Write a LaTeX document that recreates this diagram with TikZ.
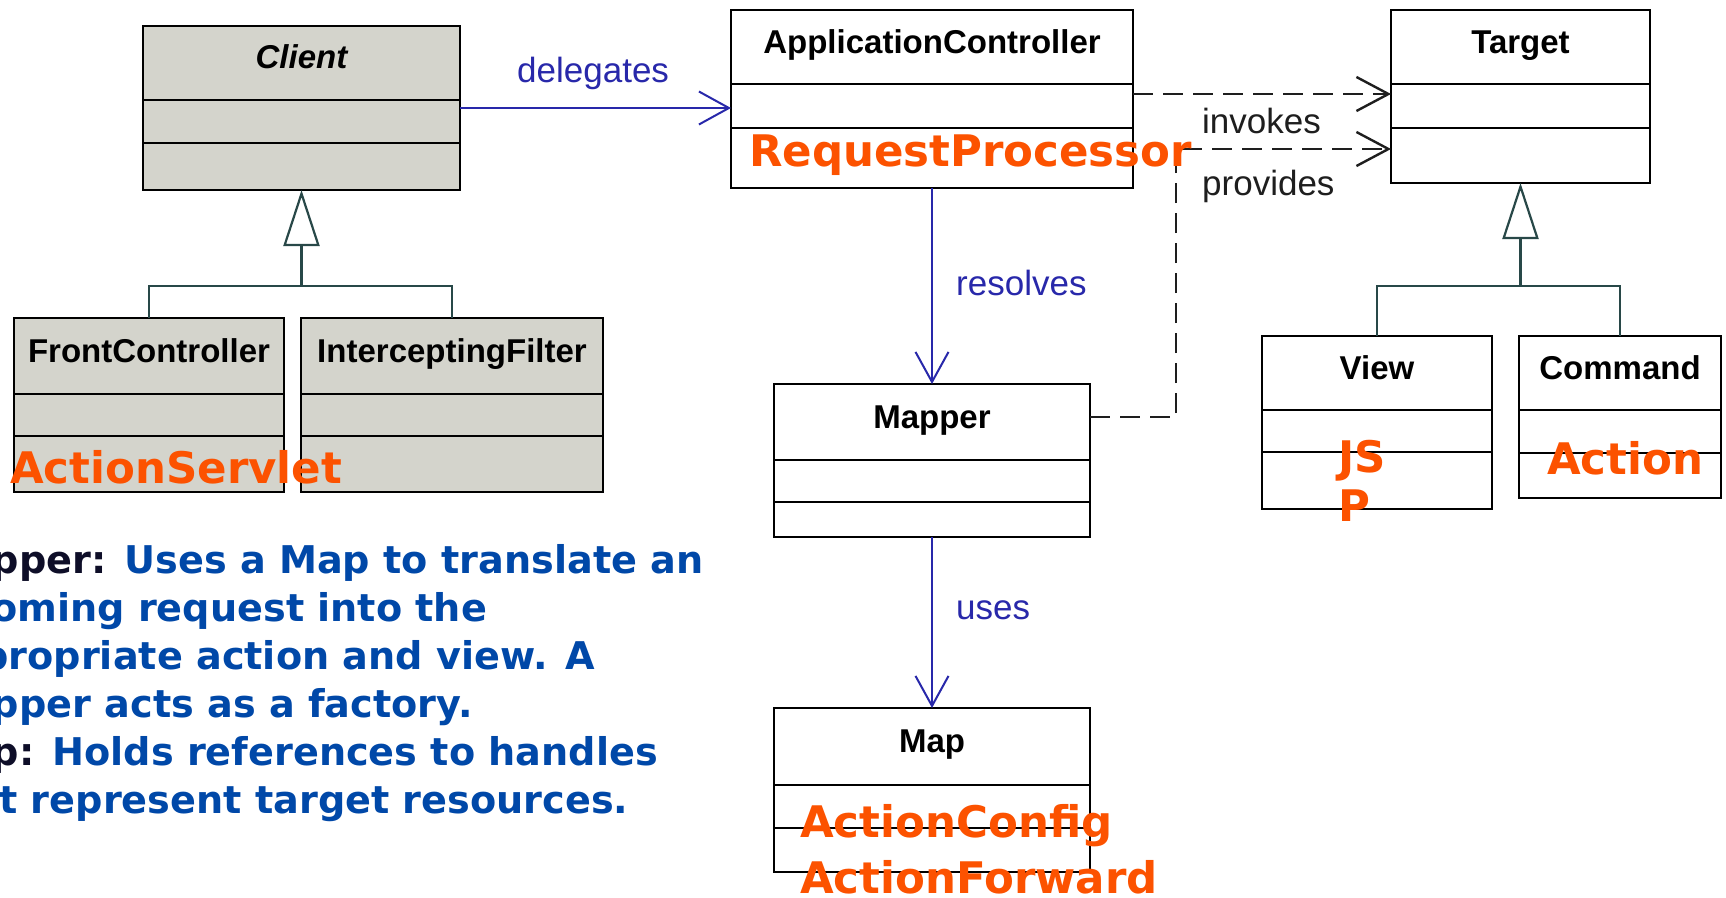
\documentclass[tikz,border=0pt]{standalone}
\usepackage{fontspec}
\setmainfont{Liberation Sans}
\newfontfamily\orfont{DejaVu Sans}
\usetikzlibrary{arrows.meta,calc}
\definecolor{umlgray}{RGB}{212,212,204}
\definecolor{orng}{RGB}{252,82,0}
\definecolor{txtblue}{RGB}{0,72,168}
\definecolor{navyk}{RGB}{14,14,40}
\definecolor{assocblue}{RGB}{40,40,170}
\definecolor{genteal}{RGB}{40,72,72}
\definecolor{depgray}{RGB}{30,30,30}
\newcommand{\umlcls}[8]{%
  \node[umlbox,#8,minimum width={(#4-#2)*1pt},minimum height={(#5-#3)*1pt},anchor=north west] (#1) at (#2,#3) {};
  \draw[umlline] (#2,#6) -- (#4,#6);
  \draw[umlline] (#2,#7) -- (#4,#7);
}
\begin{document}
\begin{tikzpicture}[x=1pt,y=-1pt,
  umlbox/.style={draw=black,line width=2.8pt,inner sep=0pt,outer sep=0pt},
  umlline/.style={draw=black,line width=2.8pt},
  umltitle/.style={anchor=base,inner sep=0pt,font=\fontsize{33}{40}\selectfont\bfseries},
  lbl/.style={anchor=base west,inner sep=0pt,font=\fontsize{35}{40}\selectfont},
  orlabel/.style={anchor=base west,inner sep=0pt,text=orng,font=\orfont\bfseries\fontsize{43.5}{49}\selectfont},
  para/.style={anchor=base west,inner sep=0pt,text=txtblue,align=left,font=\orfont\bfseries\fontsize{38.2}{48}\selectfont},
  assoc/.style={draw=assocblue,line width=2pt,-{Straight Barb[length=30pt,width=33pt]}},
  dep/.style={draw=depgray,line width=2.4pt,dash pattern=on 20pt off 10pt,-{Straight Barb[length=32pt,width=34pt]}},
  gen/.style={draw=genteal,line width=2.2pt},
  genhead/.style={draw=genteal,line width=2.2pt,-{Triangle[open,length=56pt,width=36pt]}}]
\useasboundingbox[fill=white] (0,0) rectangle (1726,897);

% classes
\umlcls{client}{143}{26}{460}{190}{100}{143}{fill=umlgray}
\umlcls{fc}{14}{318}{284}{492}{394}{436}{fill=umlgray}
\umlcls{if}{301}{318}{603}{492}{394}{436}{fill=umlgray}
\umlcls{appc}{731}{10}{1133}{188}{84}{128}{fill=white}
\umlcls{target}{1391}{10}{1650}{183}{84}{128}{fill=white}
\umlcls{mapper}{774}{384}{1090}{537}{460}{502}{fill=white}
\umlcls{map}{774}{708}{1090}{872}{785}{828}{fill=white}
\umlcls{view}{1262}{336}{1492}{509}{410}{452}{fill=white}
\umlcls{cmd}{1519}{336}{1721}{498}{410}{453}{fill=white}

% titles
\node[umltitle,font=\fontsize{33}{40}\selectfont\bfseries\itshape] (client-t) at (301.5,68) {Client};
\node[umltitle] (fc-t) at (149,362) {FrontController};
\node[umltitle] (if-t) at (452,362) {InterceptingFilter};
\node[umltitle] (appc-t) at (932,53) {ApplicationController};
\node[umltitle] (target-t) at (1520.5,53) {Target};
\node[umltitle] (mapper-t) at (932,428) {Mapper};
\node[umltitle] (map-t) at (932,752) {Map};
\node[umltitle] (view-t) at (1377,379) {View};
\node[umltitle] (cmd-t) at (1620,379) {Command};

% generalizations
\coordinate (cj) at ($(client.south)+(0,96)$);
\draw[gen] (fc.north) |- (cj) -| (if.north);
\draw[genhead] (cj) -- (client.south);
\coordinate (tj) at ($(target.south)+(0,103)$);
\draw[gen] (view.north) |- (tj) -| (cmd.north);
\draw[genhead] (tj) -- (target.south);

% associations
\draw[assoc] (client.east) -- (client.east -| appc.west);
\draw[assoc] (appc.south) -- (mapper.north);
\draw[assoc] (mapper.south) -- (map.north);

% dependencies
\draw[dep] ([yshift=-84pt]appc.north east) -- ([yshift=-84pt]appc.north east -| target.west);
\draw[dep] ([yshift=-33pt]mapper.north east) -- ++(86,0) |- ([yshift=-139pt]target.north west);

% connector labels
\node[lbl,text=assocblue] (l-deleg) at (517,82) {delegates};
\node[lbl,text=assocblue] (l-resol) at (956,295) {resolves};
\node[lbl,text=assocblue] (l-uses) at (956,619) {uses};
\node[lbl,text=depgray] (l-inv) at (1202,133) {invokes};
\node[lbl,text=depgray] (l-prov) at (1202,195) {provides};

% orange annotations
\node[orlabel] (o-as) at (10,483) {ActionServlet};
\node[orlabel] (o-rp) at (749,166) {RequestProcessor};
\node[orlabel,align=left] (o-jsp) at (1338,521) {JS\\P};
\node[orlabel] (o-act) at (1547,474) {Action};
\node[orlabel] (o-ac) at (800,837) {ActionConfig};
\node[orlabel] (o-af) at (800,893) {ActionForward};

% paragraph (base anchor = last line)
\node[para] (desc) at (-72,813) {%
\phantom{Ma}\textcolor{navyk}{pper:} Uses a Map to translate an\\
\phantom{inc}oming request into the\\
\phantom{ap}propriate action and view. A\\
\phantom{Ma}pper acts as a factory.\\
\phantom{Ma}\textcolor{navyk}{p:} Holds references to handles\\
\phantom{tha}t represent target resources.};
\end{tikzpicture}
\end{document}
